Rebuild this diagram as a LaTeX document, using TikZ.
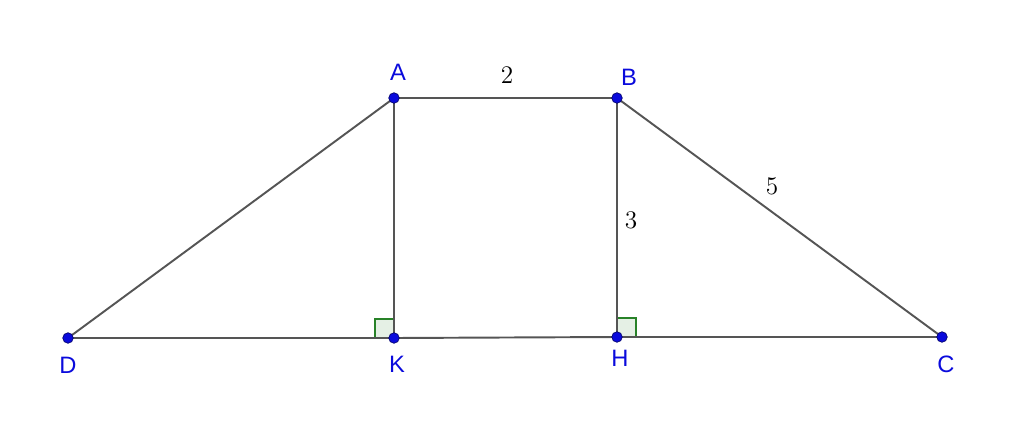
\documentclass[tikz,border=0pt]{standalone}
\usepackage{fontspec}
\newfontfamily\ptfont{Liberation Sans}
\usetikzlibrary{positioning}
\definecolor{ptblue}{RGB}{10,10,220}
\definecolor{segc}{RGB}{85,85,85}
\definecolor{angc}{RGB}{40,130,40}
\tikzset{
  seg/.style={segc, line width=1.1pt},
  ptlabel/.style={text=ptblue, font=\ptfont\fontsize{13.5}{15}\selectfont, inner sep=0pt},
  numlabel/.style={font=\fontsize{15}{17}\selectfont, inner sep=0pt},
  rightang/.style={draw=angc, fill=angc!12, line width=0.8pt},
  dot/.style={circle, fill=ptblue, draw=ptblue!50!black, line width=0.4pt, minimum size=0.21cm, inner sep=0pt}
}
\begin{document}
\begin{tikzpicture}[x=0.02cm, y=-0.02cm]
  \useasboundingbox (0,0) rectangle (1024,433);
  \coordinate (A) at (394,98);
  \coordinate (B) at (617,98);
  \coordinate (D) at (68,338);
  \coordinate (K) at (394,338);
  \coordinate (H) at (617,337);
  \coordinate (C) at (942,337);
  % right angles
  \draw[rightang] (K) rectangle ++(-19,-19);
  \draw[rightang] (H) rectangle ++(19,-19);
  % sides
  \draw[seg] (D) -- (A) -- (B) -- (C) -- (H) -- (K) -- (D);
  \draw[seg] (A) -- (K);
  \draw[seg] (B) -- (H);
  % points
  \foreach \p in {A,B,C,D,H,K}
    \node[dot] (dot\p) at (\p) {};
  % labels
  \node[ptlabel] (labA) at (398,72) {A};
  \node[ptlabel] (labB) at (629,77) {B};
  \node[ptlabel] (labD) at (68,365) {D};
  \node[ptlabel] (labK) at (397,364) {K};
  \node[ptlabel] (labH) at (620,358) {H};
  \node[ptlabel] (labC) at (946,364) {C};
  \node[numlabel] (lenAB) at (507,75) {$2$};
  \node[numlabel] (lenBH) at (631,220) {$3$};
  \node[numlabel] (lenBC) at (772,186) {$5$};
\end{tikzpicture}
\end{document}
